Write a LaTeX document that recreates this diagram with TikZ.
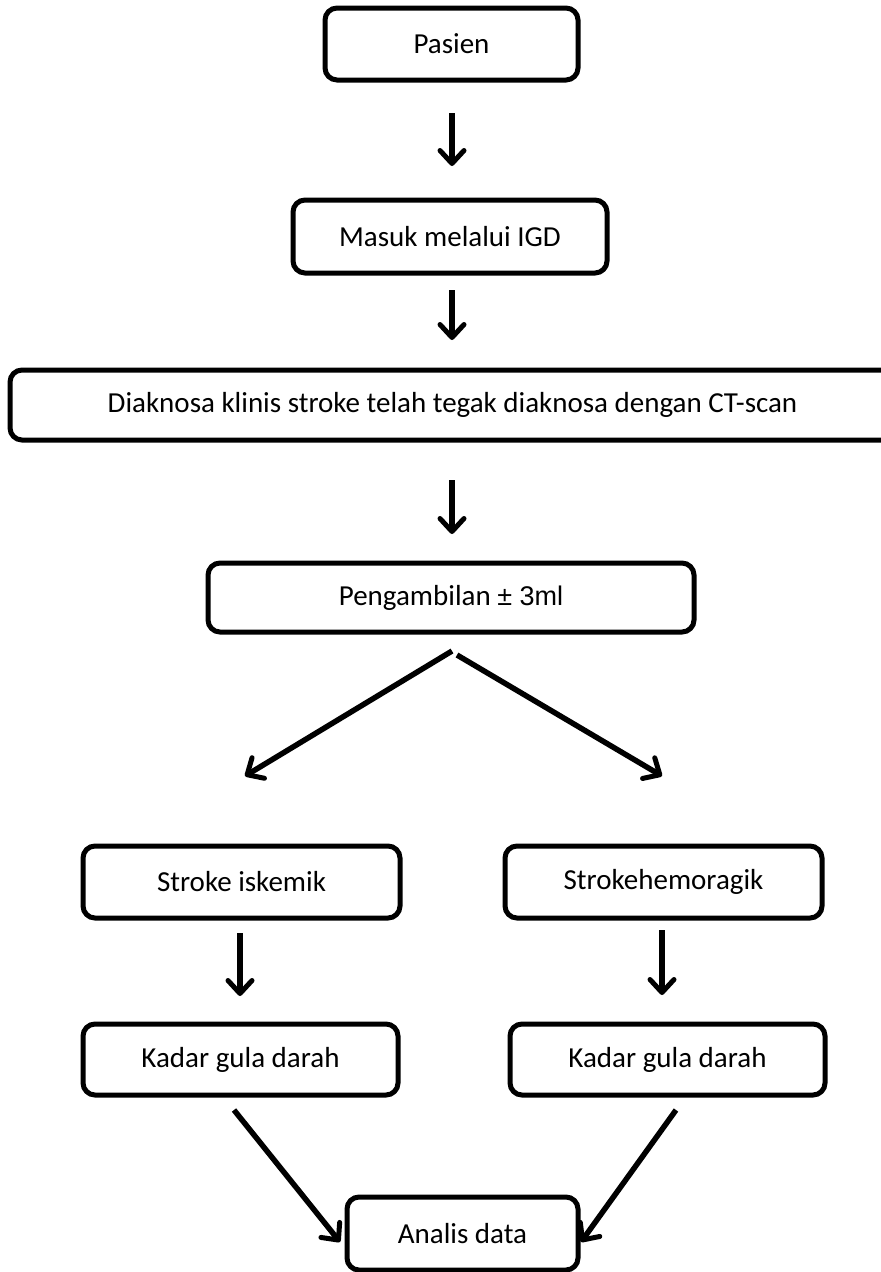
\documentclass[tikz,border=0pt]{standalone}
\usepackage{fontspec}
\setmainfont{Carlito}
\newfontfamily\arialfont{Liberation Sans}
\usetikzlibrary{arrows.meta}

\begin{document}
\begin{tikzpicture}[x=1pt, y=-1pt,
    box/.style={draw, rounded corners=12pt, line width=5pt, inner sep=0pt,
                align=center, font=\fontsize{29}{34}\selectfont},
    arr/.style={line width=5.5pt,
                -{Straight Barb[length=13pt, width=24pt, line width=5pt, round]}}]
  \useasboundingbox (0,0) rectangle (881,1272);
  \clip (0,0) rectangle (881,1272);
  \fill[white] (0,0) rectangle (881,1272);

  % Nodes
  \node[box, minimum width=253pt, minimum height=72pt] (pasien) at (451.5,44) {Pasien};
  \node[box, minimum width=314pt, minimum height=73pt] (igd) at (450,236.5) {Masuk melalui IGD};
  \node[box, minimum width=885pt, minimum height=70pt] (diag) at (452.5,405)
    {Diaknosa klinis stroke telah tegak diaknosa dengan CT-scan};
  \node[box, minimum width=486pt, minimum height=69pt] (ambil) at (451,597.5)
    {Pengambilan {\arialfont\fontsize{27}{32}\selectfont ± 3ml}};
  \node[box, minimum width=317pt, minimum height=72pt] (iskemik) at (241.5,882) {Stroke iskemik};
  \node[box, minimum width=317pt, minimum height=72pt] (hemoragik) at (663.5,882) {Strokehemoragik};
  \node[box, minimum width=315pt, minimum height=71pt] (gulaA) at (240.5,1059.5) {Kadar gula darah};
  \node[box, minimum width=315pt, minimum height=71pt] (gulaB) at (667.5,1059.5) {Kadar gula darah};
  \node[box, minimum width=231pt, minimum height=73pt] (analis) at (462.5,1233.5) {Analis data};

  % Arrow ends
  \coordinate (p1) at (452,113);  \coordinate (q1) at (452,166);
  \coordinate (p2) at (452,290);  \coordinate (q2) at (452,340);
  \coordinate (p3) at (452,480);  \coordinate (q3) at (452,534);
  \coordinate (pl) at (452,651);  \coordinate (ql) at (245,776);
  \coordinate (pr) at (457,655);  \coordinate (qr) at (662,776);
  \coordinate (p4) at (240,933);  \coordinate (q4) at (240,996);
  \coordinate (p5) at (662,930);  \coordinate (q5) at (662,995);
  \coordinate (p6) at (234,1110); \coordinate (q6) at (340,1242);
  \coordinate (p7) at (676,1110); \coordinate (q7) at (581,1242);

  % Arrows
  \draw[arr] (p1) -- (q1);
  \draw[arr] (p2) -- (q2);
  \draw[arr] (p3) -- (q3);
  \draw[arr] (pl) -- (ql);
  \draw[arr] (pr) -- (qr);
  \draw[arr] (p4) -- (q4);
  \draw[arr] (p5) -- (q5);
  \draw[arr] (p6) -- (q6);
  \draw[arr] (p7) -- (q7);
\end{tikzpicture}
\end{document}
